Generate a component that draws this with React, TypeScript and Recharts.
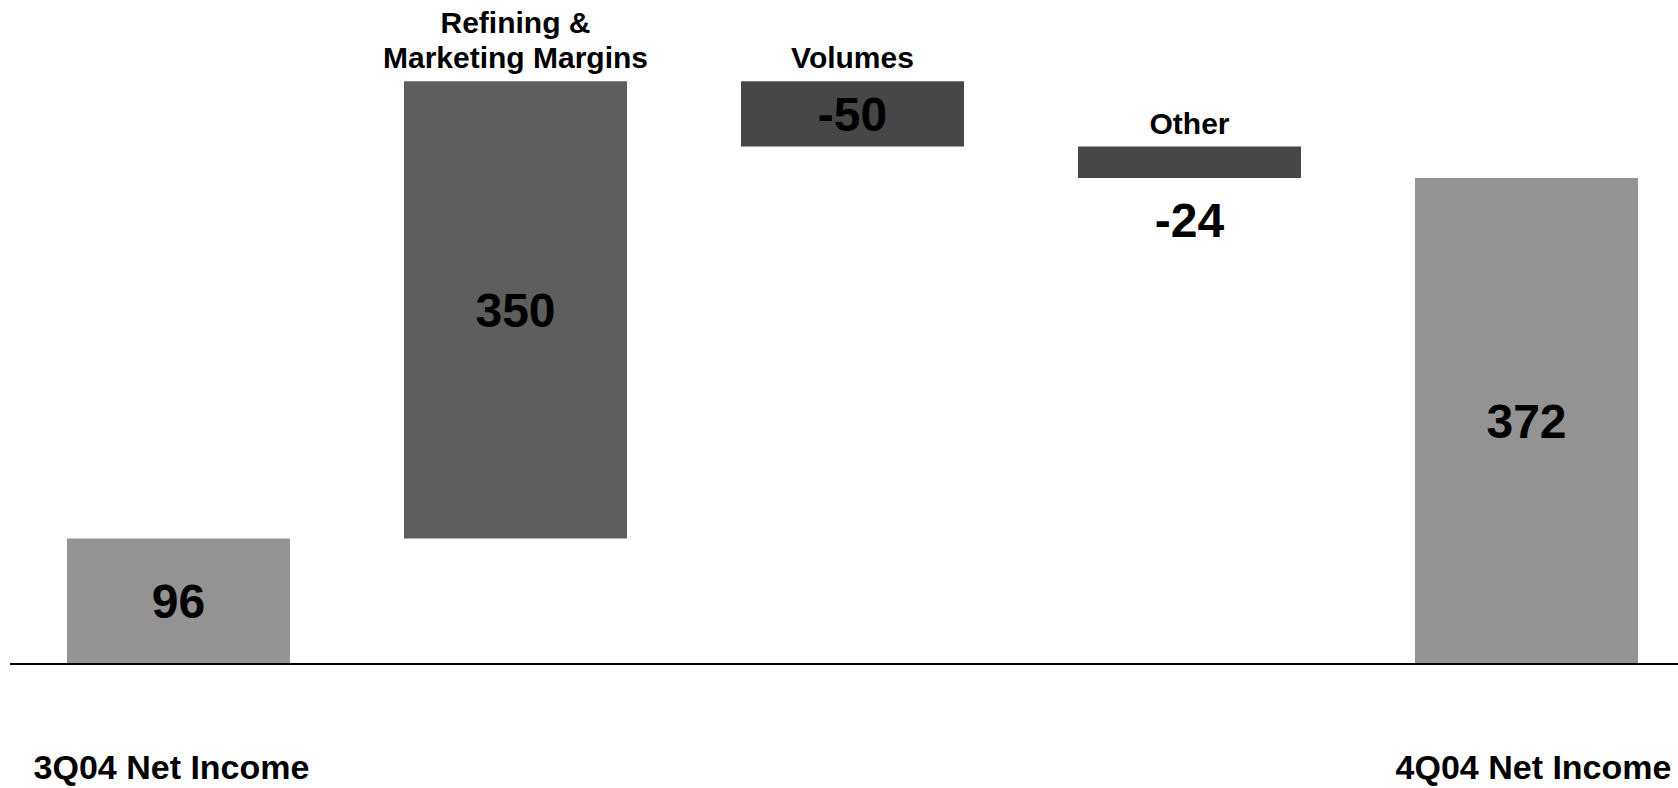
import { BarChart, Bar, XAxis, YAxis, Cell, LabelList } from "recharts";

const categories = [
  "3Q04 Net Income",
  "Refining &\nMarketing Margins",
  "Volumes",
  "Other",
  "4Q04 Net Income",
];
const changes = [96, 350, -50, -24, 372];
const isTotal = [true, false, false, false, true];

const barColors = ["#939393", "#5e5e5e", "#474747", "#474747", "#939393"];
const FONT = '"Liberation Sans", Arial, Helvetica, sans-serif';

// waterfall: invisible base + visible step, from the running total
let running = 0;
const data = categories.map((name, i) => {
  const v = changes[i];
  if (isTotal[i]) {
    running = v;
    return { name, base: 0, step: v };
  }
  const base = v >= 0 ? running : running + v;
  running += v;
  return { name, base, step: Math.abs(v) };
});

function ValueLabel(props: any) {
  const { x, y, width, height, index } = props;
  const cx = x + width / 2;
  // thin bars get their number underneath
  const ty = height < 40 ? y + height + 59 : y + height / 2 + 17;
  return (
    <text x={cx} y={ty} textAnchor="middle" fontFamily={FONT} fontWeight="bold" fontSize={48} fill="#000">
      {String(changes[index])}
    </text>
  );
}

function NameLabel(props: any) {
  const { x, y, width, index } = props;
  if (isTotal[index]) return null;
  const lines = categories[index].split("\n");
  const cx = x + width / 2;
  return (
    <text textAnchor="middle" fontFamily={FONT} fontWeight="bold" fontSize={30} fill="#000">
      {lines.map((line, k) => (
        <tspan key={k} x={cx} y={y - 13 - (lines.length - 1 - k) * 35}>
          {line}
        </tspan>
      ))}
    </text>
  );
}

function TotalTick(props: any) {
  const { x, y, payload } = props;
  const i = categories.indexOf(payload.value);
  if (i < 0 || !isTotal[i]) return <g />;
  const dx = i === 0 ? -7 : 7;
  return (
    <text x={x + dx} y={y + 115} textAnchor="middle" fontFamily={FONT} fontWeight="bold" fontSize={34} fill="#000">
      {payload.value}
    </text>
  );
}

export default function App() {
  return (
    <div
      style={{
        position: "absolute",
        left: 0,
        top: 0,
        width: 1678,
        height: 788,
        overflow: "hidden",
        background: "#fff",
      }}
    >
      <BarChart
        width={1700}
        height={788}
        data={data}
        margin={{ top: 76, right: 5, bottom: 0, left: 10 }}
        barSize={223}
      >
        <XAxis
          dataKey="name"
          height={124}
          interval={0}
          tickLine={false}
          tickSize={0}
          tickMargin={0}
          axisLine={{ stroke: "#000", strokeWidth: 2 }}
          tick={<TotalTick />}
        />
        <YAxis hide domain={[0, 450]} allowDataOverflow />
        <Bar dataKey="base" stackId="w" fill="transparent" isAnimationActive={false} />
        <Bar dataKey="step" stackId="w" isAnimationActive={false}>
          {data.map((_, i) => (
            <Cell key={i} fill={barColors[i]} />
          ))}
          <LabelList dataKey="step" content={<ValueLabel />} />
          <LabelList dataKey="name" content={<NameLabel />} />
        </Bar>
      </BarChart>
    </div>
  );
}
